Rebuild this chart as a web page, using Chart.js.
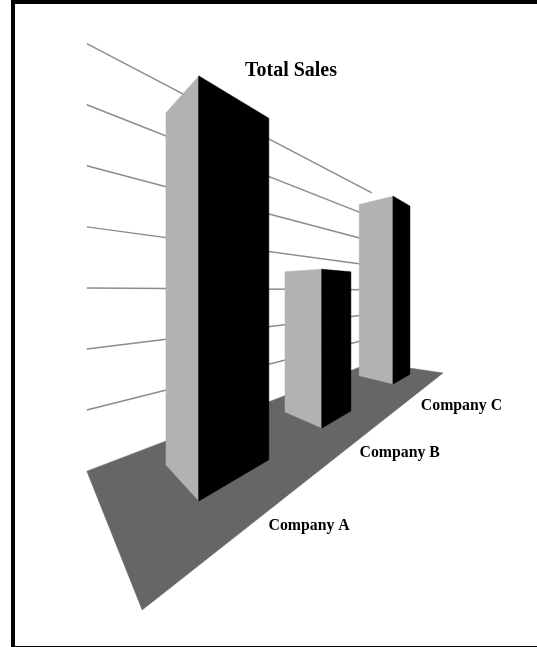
<!DOCTYPE html>
<html>
<head>
<meta charset="utf-8">
<title>Total Sales</title>
<script src="https://cdn.jsdelivr.net/npm/chart.js@4/dist/chart.umd.min.js"></script>
<style>
  html, body { margin: 0; padding: 0; background: #fff; }
  #wrap { position: relative; width: 537px; height: 647px; overflow: hidden; }
  #frame { position: absolute; left: 11px; top: 0; right: 0; bottom: 0;
           border: solid #000; border-width: 4px 0 1px 4px; }
  canvas { position: absolute; left: 0; top: 0; }
</style>
</head>
<body>
<div id="wrap">
  <div id="frame"></div>
  <canvas id="salesChart" width="537" height="647"></canvas>
</div>
<script>
const categories = ['Company A', 'Company B', 'Company C'];
const sales = [5.97, 3.42, 5.96];
const gridLevels = [1, 2, 3, 4, 5, 6, 7];
const chartTitle = 'Total Sales';

// Perspective camera: two vanishing points on the horizon, verticals stay vertical
const cam = { cx: 280, horizon: 291, f: 272, x0: -0.386, z0: 1.295 };
const unit = 0.339;

// Where things stand on the floor (a runs towards the back, b runs to the left)
const barSpots = [[0, 0], [0.978, 0.004], [2.29, 0.033]];
const barWidths = [0.45, 0.40, 0.48];
const barDepths = [0.38, 0.374, 0.40];
const floorCorners = [[-0.346, -0.282], [-0.332, 0.635], [2.96, 0.61], [3.109, -0.231]];
const labelSpots = [[0.27, -0.45], [1.085, -0.51], [2.19, -0.61]];

function project(a, b, level) {
  const x = cam.x0 + 0.711 * a - 0.709 * b;
  const z = cam.z0 + 0.703 * a + 0.706 * b;
  return {
    x: cam.cx + cam.f * x / z,
    y: cam.horizon + cam.f * (1 - level * unit) / z
  };
}

function polygon(points, color, order) {
  return {
    data: points.concat([points[0]]),
    showLine: true,
    fill: 'shape',
    backgroundColor: color,
    borderColor: color,
    borderWidth: 0.5,
    pointRadius: 0,
    order: order
  };
}

const datasets = [];

// back wall lines first, the floor over them, then bars from the back to the front
gridLevels.forEach(function(level) {
  datasets.push({
    data: [
      project(floorCorners[1][0], floorCorners[1][1], level),
      project(floorCorners[2][0], floorCorners[2][1], level)
    ],
    showLine: true,
    borderColor: '#8c8c8c',
    borderWidth: 1.5,
    pointRadius: 0,
    order: 100
  });
});

datasets.push(polygon(floorCorners.map(function(c) {
  return project(c[0], c[1], 0);
}), '#666666', 90));

sales.forEach(function(value, i) {
  const a = barSpots[i][0], b = barSpots[i][1];
  const w = barWidths[i], d = barDepths[i];
  const order = 10 * (categories.length - 1 - i) + 10;
  datasets.push(polygon([
    project(a, b, 0), project(a, b + d, 0), project(a, b + d, value), project(a, b, value)
  ], '#b2b2b2', order));
  datasets.push(polygon([
    project(a, b, 0), project(a + w, b, 0), project(a + w, b, value), project(a, b, value)
  ], '#000000', order - 1));
});

const textPlugin = {
  id: 'chartText',
  afterDraw: function(chart) {
    const ctx = chart.ctx;
    const sx = chart.scales.x, sy = chart.scales.y;
    ctx.save();
    ctx.fillStyle = '#000';
    ctx.textAlign = 'center';
    ctx.textBaseline = 'middle';
    ctx.font = 'bold 20px "Liberation Serif"';
    ctx.fillText(chartTitle, sx.getPixelForValue(291), sy.getPixelForValue(71));
    ctx.font = 'bold 15.8px "Liberation Serif"';
    categories.forEach(function(name, i) {
      const p = project(labelSpots[i][0], labelSpots[i][1], 0);
      ctx.fillText(name, sx.getPixelForValue(p.x), sy.getPixelForValue(p.y + 2));
    });
    ctx.restore();
  }
};

new Chart(document.getElementById('salesChart'), {
  type: 'scatter',
  data: { datasets: datasets },
  plugins: [textPlugin],
  options: {
    responsive: false,
    animation: false,
    layout: { padding: 0 },
    plugins: { legend: { display: false }, tooltip: { enabled: false } },
    scales: {
      x: { type: 'linear', display: false, min: 0, max: 537 },
      y: { type: 'linear', display: false, min: 0, max: 647, reverse: true }
    }
  }
});
</script>
</body>
</html>
